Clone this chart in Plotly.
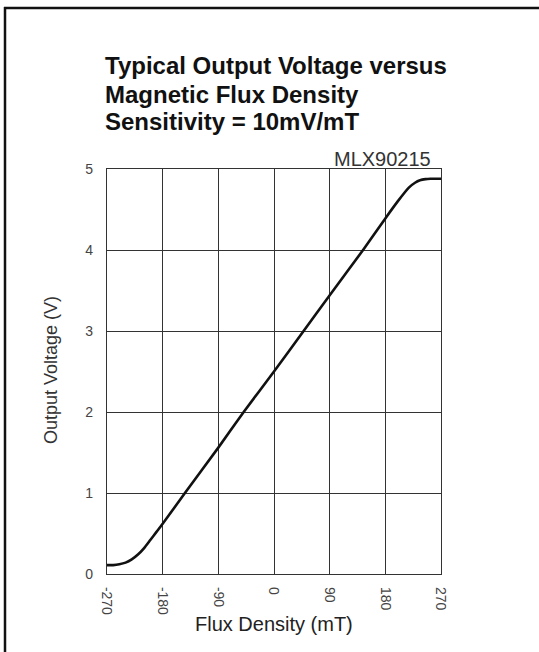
import plotly.graph_objects as go

# Data
flux_mT = [-270, -260, -250, -240, -230, -220, -210, -200, -190, -180, -144, -90, -49,
           0, 47, 88, 144, 180, 200, 218, 228, 236, 245, 253, 262, 270]
volts = [0.11, 0.11, 0.12, 0.14, 0.18, 0.24, 0.32, 0.42, 0.52, 0.62, 1.0, 1.56, 2.0,
         2.5, 2.99, 3.42, 4.0, 4.39, 4.60, 4.77, 4.83, 4.86, 4.875, 4.88, 4.88, 4.88]
x_ticks = [-270, -180, -90, 0, 90, 180, 270]
y_ticks = [0, 1, 2, 3, 4, 5]
title_lines = ["Typical Output Voltage versus", "Magnetic Flux Density", "Sensitivity = 10mV/mT"]

W, H = 539, 652
L, R, T, B = 107, 441, 169, 574  # plot area pixel bounds


def px(xp):
    return (xp - L) / (R - L)


def py(yp):
    return (B - yp) / (B - T)


FONT = "Liberation Sans, Arial, sans-serif"

fig = go.Figure()
fig.add_trace(go.Scatter(x=flux_mT, y=volts, mode="lines",
                         line=dict(color="#111111", width=2.6, shape="spline", smoothing=0.5),
                         hoverinfo="skip", showlegend=False))

axis_common = dict(showgrid=True, gridcolor="#333333", gridwidth=1, showline=True,
                   linecolor="#333333", linewidth=1.2, mirror=True, zeroline=False,
                   ticks="", tickfont=dict(family=FONT, size=14, color="#444444"))

fig.update_xaxes(range=[-270, 270], tickvals=x_ticks, ticktext=[str(v) for v in x_ticks],
                 tickangle=90, ticklabelstandoff=9, **axis_common)
fig.update_yaxes(range=[0, 5], tickvals=y_ticks, ticklabelstandoff=10, **axis_common)

annotations = []
for line, ycap in zip(title_lines, [66, 94, 121]):
    annotations.append(dict(text=line, x=px(103), y=py(ycap), xref="paper", yref="paper",
                            xanchor="left", yanchor="middle", showarrow=False,
                            font=dict(family=FONT, size=24, color="#111111", weight="bold")))
annotations.append(dict(text="MLX90215", x=px(433), y=py(159), xref="paper", yref="paper",
                        xanchor="right", yanchor="middle", showarrow=False,
                        font=dict(family=FONT, size=20, color="#333333")))
annotations.append(dict(text="Output Voltage (V)", x=px(51), y=py(370), xref="paper", yref="paper",
                        xanchor="center", yanchor="middle", textangle=-90, showarrow=False,
                        font=dict(family=FONT, size=18, color="#333333")))
annotations.append(dict(text="Flux Density (mT)", x=px(274), y=py(624), xref="paper", yref="paper",
                        xanchor="center", yanchor="middle", showarrow=False,
                        font=dict(family=FONT, size=20, color="#222222")))

shapes = [
    dict(type="line", xref="paper", yref="paper", x0=px(4), x1=px(545), y0=py(8), y1=py(8),
         line=dict(color="#111111", width=2.5)),
    dict(type="line", xref="paper", yref="paper", x0=px(5), x1=px(5), y0=py(7), y1=py(660),
         line=dict(color="#111111", width=2.5)),
]

fig.update_layout(width=W, height=H, margin=dict(l=L, r=W - R, t=T, b=H - B, pad=0),
                  paper_bgcolor="white", plot_bgcolor="white",
                  annotations=annotations, shapes=shapes, showlegend=False)

fig.write_html("out.html", config={"displayModeBar": False},
               post_script="document.body.style.margin='0';")
